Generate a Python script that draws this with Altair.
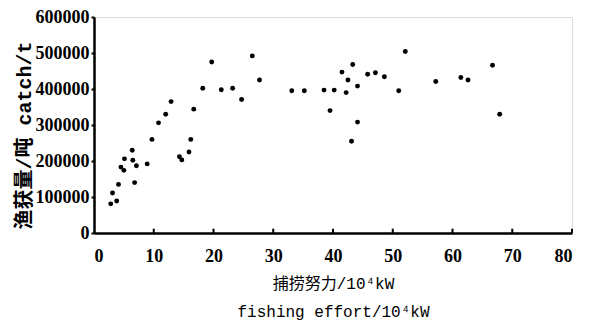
import altair as alt
import pandas as pd

effort = [2.8, 3.1, 3.8, 4.1, 4.5, 5.0, 5.1, 6.4, 6.5, 7.1, 6.8, 8.9, 9.7, 10.8, 12.0, 12.9,
          14.3, 14.7, 15.9, 16.2, 16.7, 18.2, 19.7, 21.3, 23.2, 24.7, 26.5, 27.7, 33.1, 35.2,
          38.5, 39.5, 40.2, 41.5, 42.2, 42.5, 43.1, 43.3, 44.1, 44.1, 45.8, 47.1, 48.6, 51.0,
          52.1, 57.2, 61.4, 62.6, 66.7, 67.9]
catch = [81000, 111000, 89000, 135000, 183000, 174000, 206000, 230000, 202000, 187000,
         140000, 192000, 260000, 306000, 330000, 365000, 212000, 203000, 225000, 260000,
         344000, 402000, 475000, 398000, 402000, 371000, 492000, 425000, 395000, 395000,
         397000, 340000, 397000, 447000, 390000, 425000, 255000, 468000, 408000, 308000,
         441000, 445000, 434000, 395000, 504000, 421000, 432000, 425000, 466000, 330000]
x_ticks = [0, 10, 20, 30, 40, 50, 60, 70, 80]
y_ticks = [0, 100000, 200000, 300000, 400000, 500000, 600000]

df = pd.DataFrame({"effort": effort, "catch": catch})
tick_df = pd.DataFrame({"t": x_ticks[1:], "y0": [0] * 8, "y1": [12000] * 8})

label_font = "Liberation Serif"
title_font = "Liberation Mono, Noto Sans CJK SC"

xs = alt.Scale(domain=[0, 80], nice=False)
ys = alt.Scale(domain=[0, 600000], nice=False)

x_axis = alt.Axis(
    values=x_ticks, tickSize=0, labelPadding=14, labelFontSize=18, labelFont=label_font,
    labelFontWeight="bold", labelColor="black", domainColor="black", domainWidth=2.5,
    labelOverlap=False, grid=False,
    title=["捕捞努力/10⁴kW", "fishing effort/10⁴kW"], titleFont=title_font,
    titleFontSize=16, titleFontWeight="normal", titleColor="black", titleY=42,
    titleBaseline="top", titleLineHeight=28)
y_axis = alt.Axis(
    values=y_ticks, tickSize=3, tickColor="black", tickWidth=2, labelPadding=2,
    labelFontSize=18, labelFont=label_font, labelFontWeight="bold", labelColor="black",
    domainColor="black", domainWidth=2.5, grid=False, format="d", labelOverlap=False,
    title="渔获量/吨   catch/t", titleFont=title_font, titleFontSize=20,
    titleFontWeight="bold", titleColor="black", titleX=-70, titleY=118,
    titleAlign="center", titleBaseline="middle")

points = alt.Chart(df).mark_circle(color="black", opacity=1, size=24).encode(
    x=alt.X("effort:Q", scale=xs, axis=x_axis),
    y=alt.Y("catch:Q", scale=ys, axis=y_axis),
)

ticks = alt.Chart(tick_df).mark_rule(color="black", strokeWidth=2).encode(
    x=alt.X("t:Q", scale=xs, axis=x_axis),
    y=alt.Y("y0:Q", scale=ys, axis=y_axis),
    y2="y1:Q",
)

chart = (points + ticks).properties(
    width=478, height=216,
    autosize=alt.AutoSizeParams(type="none"),
    padding={"left": 86, "top": 9, "right": 8, "bottom": 88},
).configure_view(strokeWidth=0).configure(background="white")

chart.save("out.html", embed_options={"renderer": "svg", "actions": False})
